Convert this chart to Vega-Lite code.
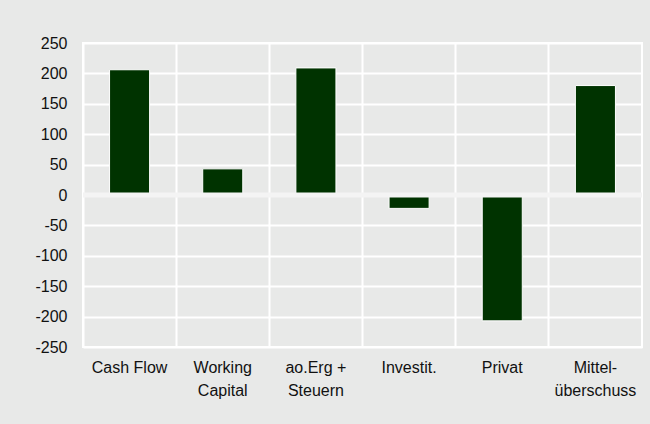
{
  "$schema": "https://vega.github.io/schema/vega-lite/v6.json",
  "width": 559,
  "height": 304,
  "autosize": {"type": "none"},
  "padding": {"left": 83, "top": 43, "right": 8, "bottom": 77},
  "background": "#e8e9e8",
  "config": {
    "view": {"stroke": "white", "strokeWidth": 2},
    "font": "Liberation Sans"
  },
  "data": {
    "values": [
      {"cat": "Cash Flow", "value": 206},
      {"cat": "Working|Capital", "value": 43},
      {"cat": "ao.Erg +|Steuern", "value": 209},
      {"cat": "Investit.", "value": -22},
      {"cat": "Privat", "value": -207},
      {"cat": "Mittel-|überschuss", "value": 180}
    ]
  },
  "layer": [
    {
      "mark": {"type": "bar", "color": "#003300", "stroke": "white", "strokeWidth": 1, "width": {"band": 0.43}},
      "encoding": {
        "x": {
          "field": "cat", "type": "nominal", "sort": null, "title": null,
          "scale": {"paddingInner": 0, "paddingOuter": 0},
          "axis": {
            "grid": true, "gridColor": "white", "gridWidth": 2, "gridOpacity": 1,
            "bandPosition": 0,
            "domain": false, "ticks": false, "labelAngle": 0,
            "labelFontSize": 16, "labelColor": "#111", "labelPadding": 12,
            "labelLineHeight": 23, "labelBaseline": "top",
            "labelExpr": "split(datum.label, '|')"
          }
        },
        "y": {
          "field": "value", "type": "quantitative", "title": null,
          "scale": {"domain": [-250, 250], "nice": false},
          "axis": {
            "values": [-250, -200, -150, -100, -50, 0, 50, 100, 150, 200, 250],
            "tickCount": 20,
            "grid": true, "gridColor": "white", "gridWidth": 2, "gridOpacity": 1,
            "domain": false, "ticks": false, "labelOverlap": false, "labelFlush": false,
            "labelFontSize": 16, "labelColor": "#111", "labelPadding": 16,
            "labelExpr": "datum.value + ''"
          }
        }
      }
    },
    {
      "data": {"values": [{"z": 0}]},
      "mark": {"type": "rule", "color": "#f4f4f4", "strokeWidth": 5},
      "encoding": {"y": {"field": "z", "type": "quantitative"}}
    }
  ]
}
